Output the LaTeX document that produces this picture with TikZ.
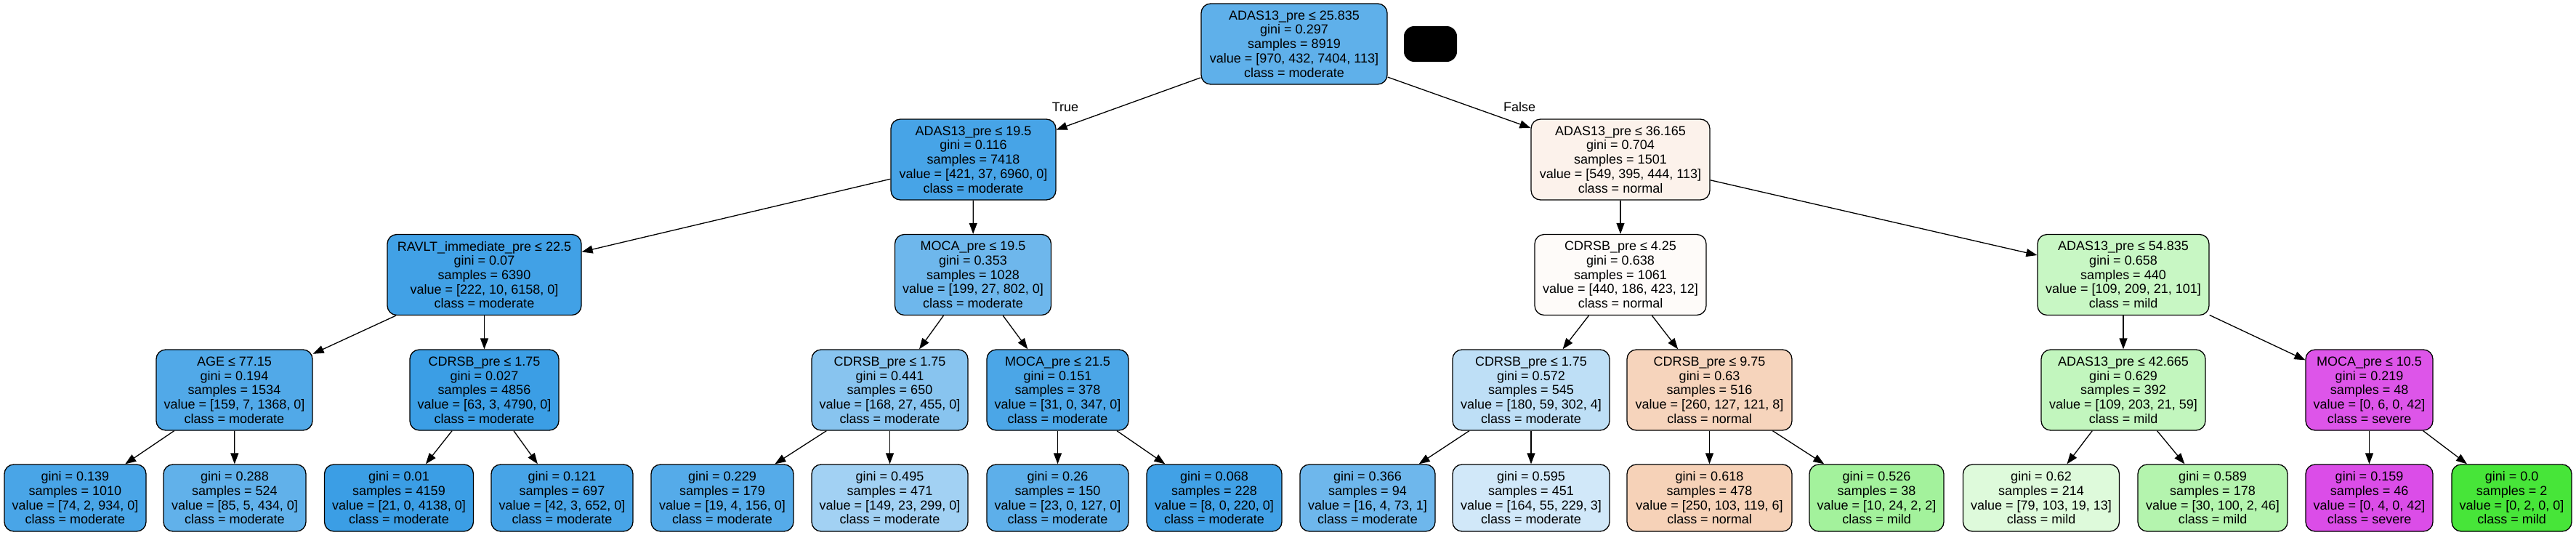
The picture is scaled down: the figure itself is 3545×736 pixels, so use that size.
\documentclass[tikz,border=0pt]{standalone}
\usepackage{fontspec}
\setmainfont{Liberation Sans}
\usetikzlibrary{arrows.meta}
\definecolor{cnormal}{RGB}{229,129,57}
\definecolor{cmild}{RGB}{71,229,57}
\definecolor{cmod}{RGB}{57,157,229}
\definecolor{csev}{RGB}{215,57,229}
\begin{document}
\begin{tikzpicture}[x=1pt,y=-1pt,
  tn/.style={draw=black, line width=1.3pt, rounded corners=13pt, align=center,
    font=\fontsize{18}{19.7}\selectfont, inner sep=0pt, minimum height=111pt},
  lf/.style={tn, minimum height=92pt},
  edge/.style={draw=black, line width=1.3pt, -{Triangle[length=15pt,width=11pt]}},
  lbl/.style={font=\fontsize{18}{19.7}\selectfont, inner sep=0pt}]
\useasboundingbox[fill=white] (0,0) rectangle (3545,736);
% level 0
\node[tn, fill=cmod!81!white, minimum width=256pt] (n0) at (1781,60.5) {ADAS13\_pre ≤ 25.835\\gini = 0.297\\samples = 8919\\value = [970, 432, 7404, 113]\\class = moderate};
\node[fill=black, rounded corners=14pt, minimum width=73pt, minimum height=49pt, inner sep=0pt] (blk) at (1968.5,60.5) {};
% level 1
\node[tn, fill=cmod!93!white, minimum width=227pt] (n1) at (1339.5,219.5) {ADAS13\_pre ≤ 19.5\\gini = 0.116\\samples = 7418\\value = [421, 37, 6960, 0]\\class = moderate};
\node[tn, fill=cnormal!10!white, minimum width=246pt] (n2) at (2230,219.5) {ADAS13\_pre ≤ 36.165\\gini = 0.704\\samples = 1501\\value = [549, 395, 444, 113]\\class = normal};
% level 2
\node[tn, fill=cmod!96!white, minimum width=267pt] (n3) at (666.5,378) {RAVLT\_immediate\_pre ≤ 22.5\\gini = 0.07\\samples = 6390\\value = [222, 10, 6158, 0]\\class = moderate};
\node[tn, fill=cmod!73!white, minimum width=215pt] (n4) at (1339,378) {MOCA\_pre ≤ 19.5\\gini = 0.353\\samples = 1028\\value = [199, 27, 802, 0]\\class = moderate};
\node[tn, fill=cnormal!3!white, minimum width=236pt] (n5) at (2230,378) {CDRSB\_pre ≤ 4.25\\gini = 0.638\\samples = 1061\\value = [440, 186, 423, 12]\\class = normal};
\node[tn, fill=cmild!30!white, minimum width=236pt] (n6) at (2922,378) {ADAS13\_pre ≤ 54.835\\gini = 0.658\\samples = 440\\value = [109, 209, 21, 101]\\class = mild};
% level 3
\node[tn, fill=cmod!88!white, minimum width=215pt] (n7) at (322.5,536.5) {AGE ≤ 77.15\\gini = 0.194\\samples = 1534\\value = [159, 7, 1368, 0]\\class = moderate};
\node[tn, fill=cmod!99!white, minimum width=205pt] (n8) at (666.5,536.5) {CDRSB\_pre ≤ 1.75\\gini = 0.027\\samples = 4856\\value = [63, 3, 4790, 0]\\class = moderate};
\node[tn, fill=cmod!60!white, minimum width=215pt] (n9) at (1224.5,536.5) {CDRSB\_pre ≤ 1.75\\gini = 0.441\\samples = 650\\value = [168, 27, 455, 0]\\class = moderate};
\node[tn, fill=cmod!91!white, minimum width=195pt] (n10) at (1455.5,536.5) {MOCA\_pre ≤ 21.5\\gini = 0.151\\samples = 378\\value = [31, 0, 347, 0]\\class = moderate};
\node[tn, fill=cmod!33!white, minimum width=216pt] (n11) at (2107,536.5) {CDRSB\_pre ≤ 1.75\\gini = 0.572\\samples = 545\\value = [180, 59, 302, 4]\\class = moderate};
\node[tn, fill=cnormal!34!white, minimum width=227pt] (n12) at (2352.5,536.5) {CDRSB\_pre ≤ 9.75\\gini = 0.63\\samples = 516\\value = [260, 127, 121, 8]\\class = normal};
\node[tn, fill=cmild!33!white, minimum width=226pt] (n13) at (2922,536.5) {ADAS13\_pre ≤ 42.665\\gini = 0.629\\samples = 392\\value = [109, 203, 21, 59]\\class = mild};
\node[tn, fill=csev!86!white, minimum width=175pt] (n14) at (3260.5,536.5) {MOCA\_pre ≤ 10.5\\gini = 0.219\\samples = 48\\value = [0, 6, 0, 42]\\class = severe};
% leaves
\node[lf, fill=cmod!92!white, minimum width=195pt] (l1) at (103.5,685) {gini = 0.139\\samples = 1010\\value = [74, 2, 934, 0]\\class = moderate};
\node[lf, fill=cmod!80!white, minimum width=196pt] (l2) at (323,685) {gini = 0.288\\samples = 524\\value = [85, 5, 434, 0]\\class = moderate};
\node[lf, fill=cmod!99!white, minimum width=205pt] (l3) at (549,685) {gini = 0.01\\samples = 4159\\value = [21, 0, 4138, 0]\\class = moderate};
\node[lf, fill=cmod!93!white, minimum width=195pt] (l4) at (773.5,685) {gini = 0.121\\samples = 697\\value = [42, 3, 652, 0]\\class = moderate};
\node[lf, fill=cmod!86!white, minimum width=196pt] (l5) at (994,685) {gini = 0.229\\samples = 179\\value = [19, 4, 156, 0]\\class = moderate};
\node[lf, fill=cmod!47!white, minimum width=215pt] (l6) at (1224.5,685) {gini = 0.495\\samples = 471\\value = [149, 23, 299, 0]\\class = moderate};
\node[lf, fill=cmod!82!white, minimum width=195pt] (l7) at (1455.5,685) {gini = 0.26\\samples = 150\\value = [23, 0, 127, 0]\\class = moderate};
\node[lf, fill=cmod!96!white, minimum width=186pt] (l8) at (1671,685) {gini = 0.068\\samples = 228\\value = [8, 0, 220, 0]\\class = moderate};
\node[lf, fill=cmod!73!white, minimum width=186pt] (l9) at (1882,685) {gini = 0.366\\samples = 94\\value = [16, 4, 73, 1]\\class = moderate};
\node[lf, fill=cmod!23!white, minimum width=216pt] (l10) at (2107,685) {gini = 0.595\\samples = 451\\value = [164, 55, 229, 3]\\class = moderate};
\node[lf, fill=cnormal!36!white, minimum width=227pt] (l11) at (2352.5,685) {gini = 0.618\\samples = 478\\value = [250, 103, 119, 6]\\class = normal};
\node[lf, fill=cmild!50!white, minimum width=185pt] (l12) at (2582.5,685) {gini = 0.526\\samples = 38\\value = [10, 24, 2, 2]\\class = mild};
\node[lf, fill=cmild!18!white, minimum width=215pt] (l13) at (2809,685) {gini = 0.62\\samples = 214\\value = [79, 103, 19, 13]\\class = mild};
\node[lf, fill=cmild!41!white, minimum width=206pt] (l14) at (3045,685) {gini = 0.589\\samples = 178\\value = [30, 100, 2, 46]\\class = mild};
\node[lf, fill=csev!90!white, minimum width=175pt] (l15) at (3260.5,685) {gini = 0.159\\samples = 46\\value = [0, 4, 0, 42]\\class = severe};
\node[lf, fill=cmild, minimum width=165pt] (l16) at (3456.5,685) {gini = 0.0\\samples = 2\\value = [0, 2, 0, 0]\\class = mild};
% edge labels
\node[lbl] (tl) at (1466,147) {True};
\node[lbl] (fl) at (2091,147) {False};
% edges
\draw[edge] (n0) -- (n1);
\draw[edge] (n0) -- (n2);
\draw[edge] (n1) -- (n3);
\draw[edge] (n1) -- (n4);
\draw[edge] (n2) -- (n5);
\draw[edge] (n2) -- (n6);
\draw[edge] (n3) -- (n7);
\draw[edge] (n3) -- (n8);
\draw[edge] (n4) -- (n9);
\draw[edge] (n4) -- (n10);
\draw[edge] (n5) -- (n11);
\draw[edge] (n5) -- (n12);
\draw[edge] (n6) -- (n13);
\draw[edge] (n6) -- (n14);
\draw[edge] (n7) -- (l1);
\draw[edge] (n7) -- (l2);
\draw[edge] (n8) -- (l3);
\draw[edge] (n8) -- (l4);
\draw[edge] (n9) -- (l5);
\draw[edge] (n9) -- (l6);
\draw[edge] (n10) -- (l7);
\draw[edge] (n10) -- (l8);
\draw[edge] (n11) -- (l9);
\draw[edge] (n11) -- (l10);
\draw[edge] (n12) -- (l11);
\draw[edge] (n12) -- (l12);
\draw[edge] (n13) -- (l13);
\draw[edge] (n13) -- (l14);
\draw[edge] (n14) -- (l15);
\draw[edge] (n14) -- (l16);
\end{tikzpicture}
\end{document}
